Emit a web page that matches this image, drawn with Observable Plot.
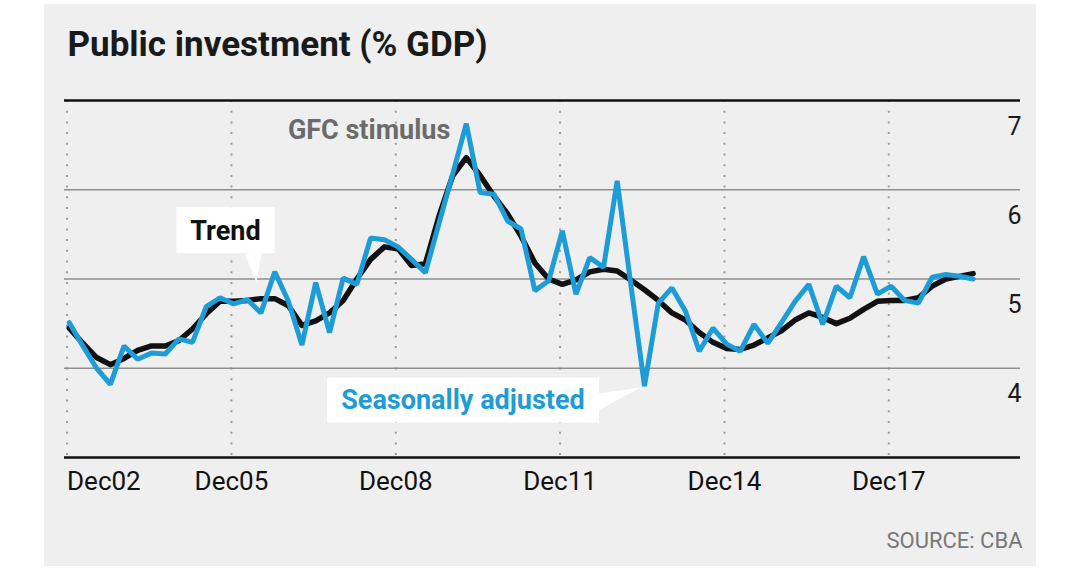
<!DOCTYPE html>
<html><head><meta charset="utf-8">
<script src="https://cdn.jsdelivr.net/npm/d3@7"></script>
<script src="https://cdn.jsdelivr.net/npm/@observablehq/plot@0.6"></script>
<style>
body{margin:0;background:#fff;}
#wrap{position:relative;width:1080px;height:577px;}
#bg{position:absolute;left:44px;top:4px;width:992px;height:562px;background:#efefef;}
#chart{position:absolute;left:0;top:0;}
</style></head><body>
<div id="wrap"><div id="bg"></div><div id="chart"></div></div>
<script>
// ---- data ----
const title = "Public investment (% GDP)";
const source = "SOURCE: CBA";
const quarters = [
 "2002-12",
 "2003-03","2003-06","2003-09","2003-12","2004-03","2004-06","2004-09","2004-12",
 "2005-03","2005-06","2005-09","2005-12","2006-03","2006-06","2006-09","2006-12",
 "2007-03","2007-06","2007-09","2007-12","2008-03","2008-06","2008-09","2008-12",
 "2009-03","2009-06","2009-09","2009-12","2010-03","2010-06","2010-09","2010-12",
 "2011-03","2011-06","2011-09","2011-12","2012-03","2012-06","2012-09","2012-12",
 "2013-03","2013-06","2013-09","2013-12","2014-03","2014-06","2014-09","2014-12",
 "2015-03","2015-06","2015-09","2015-12","2016-03","2016-06","2016-09","2016-12",
 "2017-03","2017-06","2017-09","2017-12","2018-03","2018-06","2018-09","2018-12",
 "2019-03","2019-06"
];
const seasonallyAdjusted = [
 4.51,4.25,4.00,3.82,4.25,4.10,4.17,4.16,4.33,4.29,
 4.69,4.79,4.72,4.77,4.62,5.08,4.75,4.26,4.96,4.40,
 5.01,4.94,5.46,5.44,5.36,5.22,5.07,5.63,6.18,6.74,
 5.97,5.95,5.65,5.56,4.87,4.98,5.54,4.83,5.24,5.13,
 6.10,4.95,3.80,4.73,4.90,4.64,4.19,4.45,4.27,4.19,
 4.49,4.28,4.51,4.75,4.94,4.49,4.92,4.79,5.25,4.83,
 4.92,4.76,4.73,5.02,5.05,5.03,5.00
];
const trend = [
 4.45,4.28,4.12,4.04,4.11,4.20,4.25,4.25,4.31,4.44,
 4.61,4.75,4.75,4.76,4.78,4.78,4.70,4.48,4.53,4.62,
 4.76,5.00,5.22,5.36,5.34,5.15,5.17,5.71,6.16,6.36,
 6.16,5.93,5.73,5.48,5.18,5.00,4.94,4.99,5.08,5.11,
 5.09,4.99,4.88,4.76,4.62,4.54,4.40,4.29,4.22,4.21,
 4.26,4.34,4.42,4.54,4.62,4.57,4.50,4.56,4.66,4.75,
 4.76,4.76,4.79,4.92,5.00,5.03,5.06
];
const xTickMonths = ["2002-12","2005-12","2008-12","2011-12","2014-12","2017-12"];
const xTickLabels = ["Dec02","Dec05","Dec08","Dec11","Dec14","Dec17"];
const yGrid = [4, 5, 6];
const yFrame = [3, 7];
const yTickLabels = [4, 5, 6, 7];
const peakLabel = "GFC stimulus";
const annotations = [
  {label: "Trend", series: "trend", quarter: "2006-06"},
  {label: "Seasonally adjusted", series: "sa", quarter: "2013-06"}
];

// ---- styling ----
const blue = "#1e9cd7";
const ink = "#111";
const annStyle = {
  "Trend": {fill: ink, box: [-84, 14, -91, -45], pointer: [[-16,-45],[1,-45],[-4,-16]], text: [-35, -68]},
  "Seasonally adjusted": {fill: blue, box: [-317, -45, -8, 37], pointer: [[-46,8],[-46,25],[-3,2]], text: [-181, 14]}
};

const parseMonth = d3.utcParse("%Y-%m");
const rows = quarters.map((q, i) => ({
  quarter: q,
  date: d3.utcDay.offset(parseMonth(q), 15),
  sa: seasonallyAdjusted[i],
  trend: trend[i]
}));
const ticks = xTickMonths.map((m, i) => ({date: parseMonth(m), label: xTickLabels[i]}));
const peak = d3.greatest(rows, d => d.sa);

const annotationMark = (index, scales) => {
  const g = d3.create("svg:g");
  for (const a of annotations) {
    const r = rows.find(d => d.quarter === a.quarter);
    const px = scales.x(r.date), py = scales.y(r[a.series]);
    const s = annStyle[a.label];
    const [bx0, bx1, by0, by1] = s.box;
    g.append("rect")
      .attr("x", px + bx0).attr("y", py + by0)
      .attr("width", bx1 - bx0).attr("height", by1 - by0)
      .attr("fill", "#fff");
    g.append("path")
      .attr("d", "M" + s.pointer.map(([dx, dy]) => [px + dx, py + dy].join(",")).join("L") + "Z")
      .attr("fill", "#fff");
    g.append("text")
      .attr("x", px + s.text[0]).attr("y", py + s.text[1])
      .attr("dy", "0.36em")
      .attr("text-anchor", "middle")
      .attr("font-family", "Roboto")
      .attr("font-weight", 700)
      .attr("font-size", 27)
      .attr("fill", s.fill)
      .text(a.label);
  }
  return g.node();
};

const chart = Plot.plot({
  width: 1080,
  height: 577,
  marginLeft: 64,
  marginRight: 60,
  marginTop: 100,
  marginBottom: 120,
  style: {background: "transparent", fontFamily: "Roboto", overflow: "visible"},
  x: {type: "utc", domain: [new Date(Date.UTC(2002, 10, 14)), new Date(Date.UTC(2020, 3, 27))], axis: null},
  y: {domain: [3, 7], axis: null},
  marks: [
    Plot.ruleX(ticks, {x: "date", stroke: "#9a9a9a", strokeWidth: 2, strokeDasharray: "2,8.7"}),
    Plot.ruleY(yGrid, {stroke: "#8f8f8f", strokeWidth: 1.6}),
    Plot.ruleY(yFrame, {stroke: ink, strokeWidth: 2.5}),
    Plot.lineY(rows, {x: "date", y: "trend", stroke: ink, strokeWidth: 5.5}),
    Plot.lineY(rows, {x: "date", y: "sa", stroke: blue, strokeWidth: 5, strokeLinejoin: "miter"}),
    Plot.text(yTickLabels, {y: d => d, text: d => String(d), frameAnchor: "right", dx: 1, dy: 26, textAnchor: "end", lineAnchor: "middle", fontSize: 25, fill: "#1a1a1a"}),
    Plot.text(ticks.slice(0, 1), {x: "date", text: "label", frameAnchor: "bottom", dy: 24, textAnchor: "start", lineAnchor: "middle", fontSize: 26, fill: ink}),
    Plot.text(ticks.slice(1), {x: "date", text: "label", frameAnchor: "bottom", dy: 24, textAnchor: "middle", lineAnchor: "middle", fontSize: 26, fill: ink}),
    Plot.text([peak], {x: "date", y: "sa", text: () => peakLabel, dx: -16, dy: 7, textAnchor: "end", lineAnchor: "middle", fontSize: 27, fontWeight: 700, fill: "#6b6b6b"}),
    annotationMark,
    Plot.text([title], {text: d => d, frameAnchor: "top-left", dx: 3, dy: -45, textAnchor: "start", lineAnchor: "bottom", fontSize: 35, fontWeight: 700, fill: "#1a1a1a"}),
    Plot.text([source], {text: d => d, frameAnchor: "bottom-right", dx: 2, dy: 90, textAnchor: "end", lineAnchor: "bottom", fontSize: 22, fill: "#777"})
  ]
});
document.getElementById("chart").appendChild(chart);
</script></body></html>
